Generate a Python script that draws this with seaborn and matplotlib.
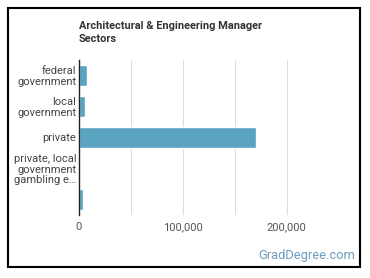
import matplotlib
matplotlib.use("Agg")
import matplotlib.pyplot as plt
import seaborn as sns
import pandas as pd
from matplotlib.patches import Rectangle

categories = ["federal government", "local government", "private",
              "private, local government gambling establishments", "other"]
tick_labels = ["federal\ngovernment", "local\ngovernment", "private",
               "private, local\ngovernment\ngambling e…", ""]
values = [7800, 5500, 171000, 1000, 3700]
x_ticks = [0, 100000, 200000]
x_tick_labels = ["0", "100,000", "200,000"]
grid_ticks = [50000, 100000, 150000, 200000]

sns.set_theme(style="white")
plt.rcParams["font.family"] = ["Roboto", "DejaVu Sans"]

df = pd.DataFrame({"category": categories, "value": values})

fig = plt.figure(figsize=(3.7, 2.78), dpi=100)
ax = fig.add_axes([0.2135, 0.2266, 0.603, 0.5576])

sns.barplot(data=df, y="category", x="value", orient="h", color="#5ba4c1",
            saturation=1, width=0.65, ax=ax, zorder=3)

ax.set_xlim(0, 215000)
ax.set_ylim(4.5, -0.5)
for g in grid_ticks:
    ax.axvline(g, color="#dddddd", lw=0.8, zorder=0)
ax.set_xticks(x_ticks)
ax.set_xticklabels(x_tick_labels, fontsize=8, color="#555555")
ax.set_yticks(range(len(categories)))
ax.set_yticklabels(tick_labels, fontsize=8, color="#444444", linespacing=1.05)
ax.tick_params(axis="both", length=0, pad=2)
ax.tick_params(axis="x", pad=5)
ax.set_xlabel("")
ax.set_ylabel("")
for s in ["top", "right", "bottom"]:
    ax.spines[s].set_visible(False)
ax.spines["left"].set_color("#222222")
ax.spines["left"].set_linewidth(1.0)
ax.spines["left"].set_zorder(4)

fig.text(79 / 370, 1 - 21 / 278, "Architectural & Engineering Manager\nSectors",
         fontsize=7.9, fontweight="bold", color="#333333", va="top", ha="left",
         linespacing=1.35)
fig.text(355 / 370, 1 - 255 / 278, "GradDegree.com", fontsize=9.3,
         color="#6b9fc2", ha="right", va="center")

fig.patches.append(Rectangle((8 / 370, 1 - 267 / 278), 352 / 370, 259 / 278,
                             transform=fig.transFigure, fill=False,
                             edgecolor="black", lw=1.5, zorder=10))

fig.savefig("out.png", dpi=100)
